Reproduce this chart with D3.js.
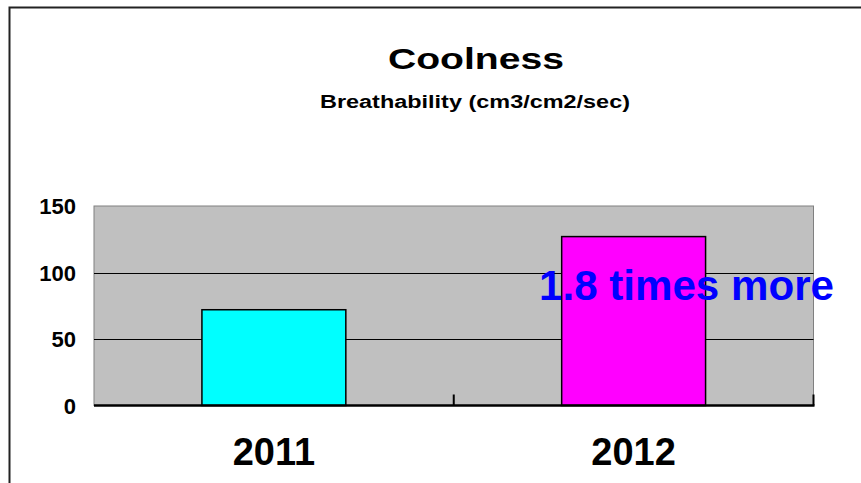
<!DOCTYPE html>
<html>
<head>
<meta charset="utf-8">
<script src="https://cdn.jsdelivr.net/npm/d3@7"></script>
<style>
  html, body { margin: 0; padding: 0; background: #fff; }
  svg { display: block; font-family: "Liberation Sans", Arial, sans-serif; }
</style>
</head>
<body>
<script>
// chart data
const years = ['2011', '2012']
const breathability = [72, 127]
const barColors = ['#00ffff', '#ff00ff']
const yTicks = [0, 50, 100, 150]
const title = 'Coolness'
const subtitle = 'Breathability (cm3/cm2/sec)'
const note = '1.8 times more'

const W = 861, H = 483
const plot = { left: 94, right: 813.5, top: 206, bottom: 405.5 }

const svg = d3.select('body').append('svg')
    .attr('width', W)
    .attr('height', H)

// outer frame, runs off the right and bottom edge
svg.append('rect')
    .attr('x', 9.5).attr('y', 7.5)
    .attr('width', W + 20).attr('height', H + 20)
    .attr('fill', 'none')
    .attr('stroke', '#222')
    .attr('stroke-width', 2)

const x = d3.scaleBand()
    .domain(years)
    .range([plot.left, plot.right])
    .paddingInner(0.6)
    .paddingOuter(0.3)

const y = d3.scaleLinear()
    .domain([0, 150])
    .range([plot.bottom, plot.top])

// plot background
svg.append('rect')
    .attr('x', plot.left).attr('y', plot.top)
    .attr('width', plot.right - plot.left)
    .attr('height', plot.bottom - plot.top)
    .attr('fill', '#c0c0c0')
    .attr('stroke', '#808080')
    .attr('stroke-width', 1)

// gridlines
svg.append('g')
    .selectAll('line')
    .data(yTicks.filter(t => t > 0 && t < 150))
    .enter().append('line')
    .attr('x1', plot.left).attr('x2', plot.right)
    .attr('y1', d => Math.round(y(d)) + 0.5)
    .attr('y2', d => Math.round(y(d)) + 0.5)
    .attr('stroke', '#000')
    .attr('stroke-width', 1)

// bars
svg.append('g')
    .selectAll('rect')
    .data(years)
    .enter().append('rect')
    .attr('x', d => x(d))
    .attr('y', (d, i) => y(breathability[i]))
    .attr('width', x.bandwidth())
    .attr('height', (d, i) => y(0) - y(breathability[i]))
    .attr('fill', (d, i) => barColors[i])
    .attr('stroke', '#000')
    .attr('stroke-width', 1.5)

// x axis line + inward ticks at category boundaries
const step = x.step()
const bounds = d3.range(years.length + 1).map(i => plot.left + i * (plot.right - plot.left) / years.length)
svg.append('line')
    .attr('x1', plot.left).attr('x2', plot.right + 1)
    .attr('y1', plot.bottom).attr('y2', plot.bottom)
    .attr('stroke', '#000')
    .attr('stroke-width', 2.5)
svg.append('g')
    .selectAll('line')
    .data(bounds.slice(1))
    .enter().append('line')
    .attr('x1', d => d).attr('x2', d => d)
    .attr('y1', plot.bottom).attr('y2', plot.bottom - 11)
    .attr('stroke', '#000')
    .attr('stroke-width', 2)

// y tick labels
svg.append('g')
    .selectAll('text')
    .data(yTicks)
    .enter().append('text')
    .attr('x', 76)
    .attr('y', d => y(d) + 8)
    .attr('text-anchor', 'end')
    .style('font-size', '22px')
    .style('font-weight', 'bold')
    .text(d => d)

// category labels
svg.append('g')
    .selectAll('text')
    .data(years)
    .enter().append('text')
    .attr('x', d => x(d) + x.bandwidth() / 2)
    .attr('y', 465)
    .attr('text-anchor', 'middle')
    .style('font-size', '38px')
    .style('font-weight', 'bold')
    .text(d => d)

// titles
svg.append('text')
    .attr('x', 476).attr('y', 69)
    .attr('text-anchor', 'middle')
    .attr('textLength', 176)
    .attr('lengthAdjust', 'spacingAndGlyphs')
    .style('font-size', '30px')
    .style('font-weight', 'bold')
    .text(title)

svg.append('text')
    .attr('x', 475).attr('y', 108)
    .attr('text-anchor', 'middle')
    .attr('textLength', 310)
    .attr('lengthAdjust', 'spacingAndGlyphs')
    .style('font-size', '18px')
    .style('font-weight', 'bold')
    .text(subtitle)

// annotation
svg.append('text')
    .attr('x', 686.5).attr('y', 300)
    .attr('text-anchor', 'middle')
    .attr('textLength', 295)
    .attr('lengthAdjust', 'spacingAndGlyphs')
    .style('font-size', '43px')
    .style('font-weight', 'bold')
    .attr('fill', '#0000ff')
    .text(note)
</script>
</body>
</html>
